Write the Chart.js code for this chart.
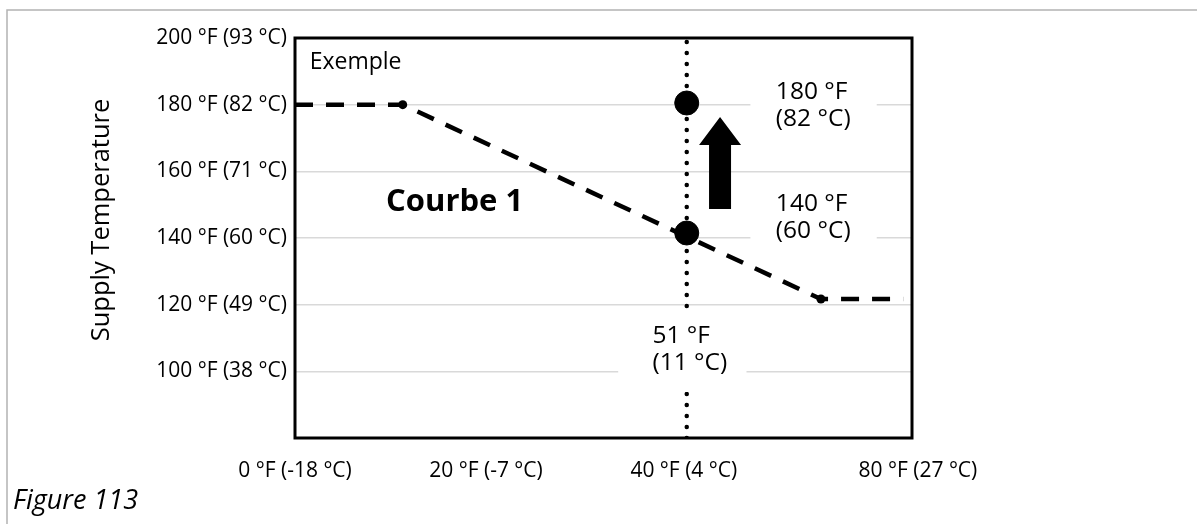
<!DOCTYPE html>
<html>
<head>
<meta charset="utf-8">
<script src="https://cdn.jsdelivr.net/npm/chart.js@4.4.1/dist/chart.umd.min.js"></script>
<style>
  html, body { margin: 0; padding: 0; background: #fff; }
  canvas { display: block; }
</style>
</head>
<body>
<canvas id="chart" width="1197" height="524"></canvas>
<script>
// axis ticks (x positions follow the drawing, the labels are schematic)
const xTickValues = [0, 19.5, 39.7, 63.6];
const xTickLabels = ['0 °F (-18 °C)', '20 °F (-7 °C)', '40 °F (4 °C)', '80 °F (27 °C)'];
const yTickValues = [100, 120, 140, 160, 180, 200];
const yTickLabels = ['100 °F (38 °C)', '120 °F (49 °C)', '140 °F (60 °C)', '160 °F (71 °C)', '180 °F (82 °C)', '200 °F (93 °C)'];

// reset curve "Courbe 1"
const curveX = [0, 11, 53.7, 62.1];
const curveY = [180, 180, 121.7, 121.7];

// outdoor temperature marker line (51 °F)
const outdoorX = [40, 40];
const outdoorY = [80, 200];

// supply temperature points before / after
const pointX = [40, 40];
const pointY = [180.5, 141.5];

// arrow from the 140 °F point up to 180 °F
const arrowX = 43.4;
const arrowFrom = 148.7;
const arrowTo = 176.3;

const FONT = "'Open Sans', 'DejaVu Sans', sans-serif";

function toPoints(xs, ys) {
    return xs.map((x, i) => ({ x: x, y: ys[i] }));
}

// white label boxes and texts, in data units
const boxes = [
    { x0: 46.5, x1: 59.4, y0: 189, y1: 170 },
    { x0: 46.5, x1: 59.4, y0: 154.4, y1: 136.4 },
    { x0: 33.0, x1: 46.1, y0: 118.4, y1: 93.8 }
];
const notes = [
    { lines: ['Exemple'], x: 1.5, y: 192.8, font: '23px ' + FONT },
    { lines: ['Courbe 1'], x: 9.3, y: 150.8, font: 'bold 31px ' + FONT },
    { lines: ['180 °F', '(82 °C)'], x: 49.1, y: 183.8, font: '24.5px ' + FONT },
    { lines: ['140 °F', '(60 °C)'], x: 49.1, y: 150.2, font: '24.5px ' + FONT },
    { lines: ['51 °F', '(11 °C)'], x: 36.5, y: 110.6, font: '24.5px ' + FONT }
];

const notesPlugin = {
    id: 'notes',
    beforeDraw(chart) {
        const ctx = chart.ctx;
        ctx.save();
        ctx.strokeStyle = '#b3b3b3';
        ctx.lineWidth = 1.5;
        ctx.beginPath();
        ctx.moveTo(7, chart.height);
        ctx.lineTo(7, 10);
        ctx.lineTo(chart.width, 10);
        ctx.stroke();
        ctx.restore();
    },
    afterDatasetsDraw(chart) {
        const ctx = chart.ctx;
        const xs = chart.scales.x;
        const ys = chart.scales.y;
        const area = chart.chartArea;
        ctx.save();

        ctx.fillStyle = '#fff';
        boxes.forEach(b => {
            const l = xs.getPixelForValue(b.x0), r = xs.getPixelForValue(b.x1);
            const t = ys.getPixelForValue(b.y0), btm = ys.getPixelForValue(b.y1);
            ctx.fillRect(l, t, r - l, btm - t);
        });

        // arrow
        const ax = xs.getPixelForValue(arrowX);
        const tip = ys.getPixelForValue(arrowTo);
        const base = ys.getPixelForValue(arrowFrom);
        const head = 28, shaft = 11, wing = 21;
        ctx.fillStyle = '#000';
        ctx.beginPath();
        ctx.moveTo(ax, tip);
        ctx.lineTo(ax + wing, tip + head);
        ctx.lineTo(ax + shaft, tip + head);
        ctx.lineTo(ax + shaft, base);
        ctx.lineTo(ax - shaft, base);
        ctx.lineTo(ax - shaft, tip + head);
        ctx.lineTo(ax - wing, tip + head);
        ctx.closePath();
        ctx.fill();

        // texts
        ctx.textAlign = 'left';
        ctx.textBaseline = 'middle';
        notes.forEach(n => {
            ctx.font = n.font;
            n.lines.forEach((line, i) => {
                ctx.fillText(line, xs.getPixelForValue(n.x), ys.getPixelForValue(n.y) + i * 27);
            });
        });

        // plot frame
        ctx.strokeStyle = '#000';
        ctx.lineWidth = 3;
        ctx.strokeRect(area.left, area.top, area.right - area.left, area.bottom - area.top);

        // axis title, a bit above the middle of the plot as in the drawing
        ctx.save();
        ctx.translate(102, 220);
        ctx.rotate(-Math.PI / 2);
        ctx.textAlign = 'center';
        ctx.font = '25.5px ' + FONT;
        ctx.fillText('Supply Temperature', 0, 0);
        ctx.restore();

        // figure caption
        ctx.font = 'italic 27px ' + FONT;
        ctx.fillText('Figure 113', 13, 501);
        ctx.restore();
    }
};

new Chart(document.getElementById('chart'), {
    type: 'scatter',
    data: {
        datasets: [
            {
                data: toPoints(pointX, pointY),
                backgroundColor: '#000',
                borderColor: '#000',
                pointRadius: 12,
                showLine: false
            },
            {
                data: toPoints(curveX, curveY),
                showLine: true,
                borderColor: '#000',
                borderWidth: 4.5,
                borderDash: [18, 13],
                backgroundColor: '#000',
                pointRadius: ctx => (ctx.dataIndex === 1 || ctx.dataIndex === 2) ? 4.5 : 0,
                pointBorderWidth: 0
            },
            {
                data: toPoints(outdoorX, outdoorY),
                showLine: true,
                borderColor: '#000',
                borderWidth: 4.5,
                borderDash: [0, 11],
                borderCapStyle: 'round',
                pointRadius: 0
            }
        ]
    },
    options: {
        responsive: false,
        animation: false,
        events: [],
        layout: { padding: { left: 80, top: 38, right: 285, bottom: 0 } },
        plugins: {
            legend: { display: false },
            tooltip: { enabled: false }
        },
        scales: {
            x: {
                type: 'linear',
                min: 0,
                max: 63,
                grid: { display: false },
                border: { display: false },
                afterBuildTicks: s => { s.ticks = xTickValues.map(v => ({ value: v })); },
                afterFit: s => { s.height = 86; },
                ticks: {
                    autoSkip: false,
                    maxRotation: 0,
                    padding: 12,
                    color: '#000',
                    font: { family: FONT, size: 21 },
                    callback: (v, i) => xTickLabels[i]
                }
            },
            y: {
                min: 80,
                max: 200,
                grid: {
                    drawTicks: false,
                    lineWidth: 1.5,
                    color: ctx => (ctx.tick && ctx.tick.value === 200) ? 'rgba(0,0,0,0)' : '#d9d9d9'
                },
                border: { display: false },
                afterBuildTicks: s => { s.ticks = yTickValues.map(v => ({ value: v })); },
                afterFit: s => { s.width = 215; },
                ticks: {
                    padding: 8,
                    color: '#000',
                    font: { family: FONT, size: 21 },
                    callback: (v, i) => yTickLabels[i]
                }
            }
        }
    },
    plugins: [notesPlugin]
});
</script>
</body>
</html>
